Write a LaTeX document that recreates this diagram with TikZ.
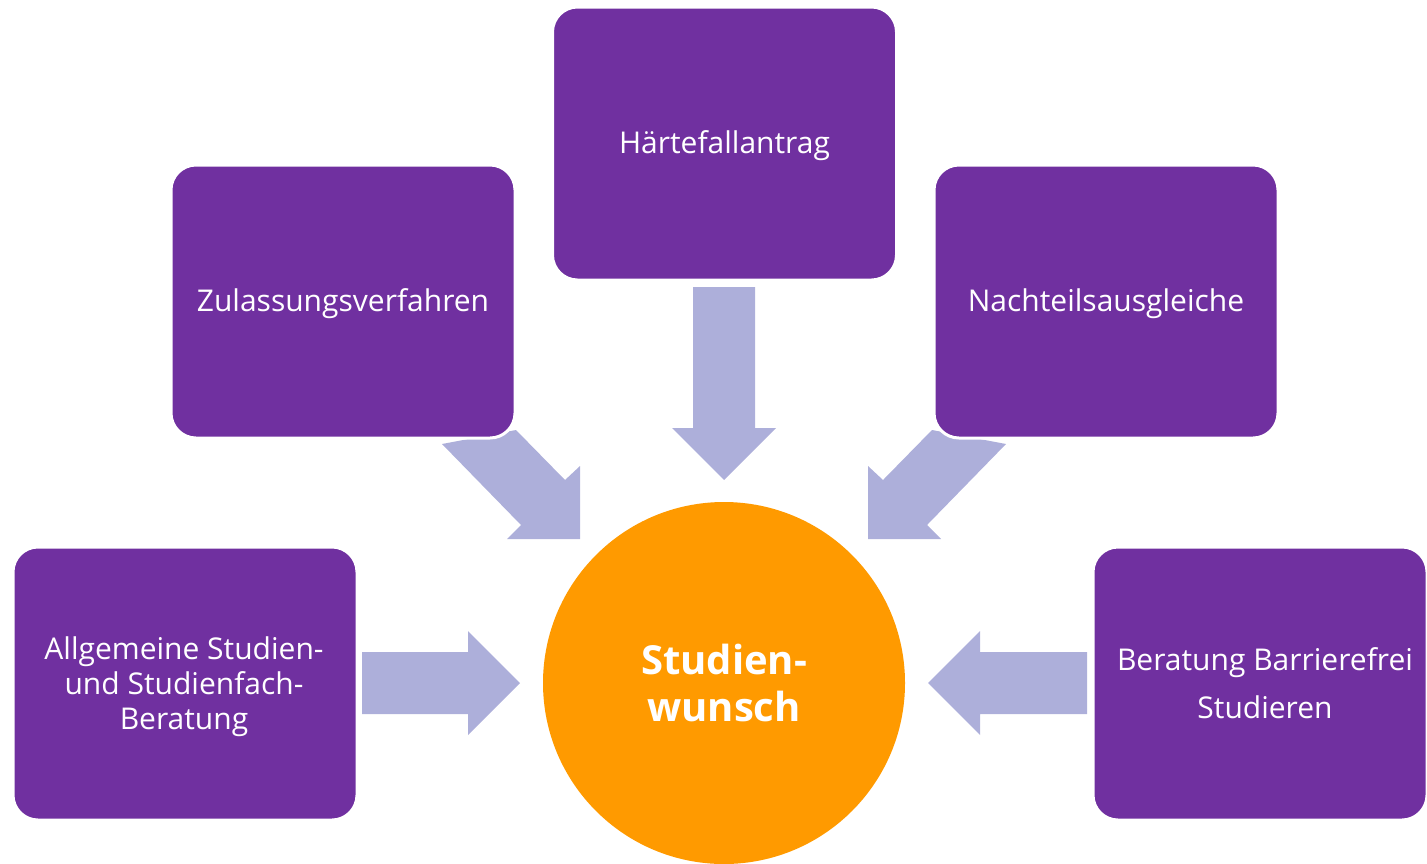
\documentclass[tikz,border=0pt]{standalone}
\usepackage{fontspec}
\setmainfont{Open Sans}
\definecolor{boxpurple}{HTML}{7030A0}
\definecolor{arrowlav}{HTML}{ADAFDA}
\definecolor{circorange}{HTML}{FF9A00}
\begin{document}
\begin{tikzpicture}[x=0.5pt,y=-0.5pt,
  infobox/.style={rectangle,rounded corners=12.5pt,fill=boxpurple,draw=white,line width=1.5pt,
    minimum width=172pt,minimum height=136.5pt,inner sep=0pt},
  boxtext/.style={text=white,align=center,font=\fontsize{15}{17.5}\selectfont,inner sep=0pt},
  blockarrow/.style={fill=arrowlav,draw=none}]
\useasboundingbox (0,0) rectangle (1427,863);
\clip (0,0) rectangle (1427,863);
% arrows
\fill[blockarrow] (693,287) -- (755,287) -- (755,428) -- (776,428) -- (724,480) -- (672,428) -- (693,428) -- cycle;
\fill[blockarrow] (362,652) -- (468,652) -- (468,631) -- (520,683) -- (468,735) -- (468,714) -- (362,714) -- cycle;
\fill[blockarrow] (1087,652) -- (980,652) -- (980,631) -- (928,683) -- (980,735) -- (980,714) -- (1087,714) -- cycle;
\fill[blockarrow] (442,444) -- (516,430) -- (565,480) -- (580,466) -- (580,539) -- (507,539) -- (521,525) -- cycle;
\fill[blockarrow] (1006,444) -- (932,430) -- (883,480) -- (868,466) -- (868,539) -- (941,539) -- (927,525) -- cycle;
% boxes
\node[infobox] (haerte) at (724.5,143.5) {};
\node[infobox] (zul) at (343,301.5) {};
\node[infobox] (nach) at (1106,301.5) {};
\node[infobox] (allg) at (185,683.5) {};
\node[infobox,minimum width=167pt] (ber) at (1260,683.5) {};
\node[circle,fill=circorange,minimum size=181pt,inner sep=0pt] (wunsch) at (724,683) {};
% texts
\node[boxtext] (haerteT) at (724.5,146) {Härtefallantrag};
\node[boxtext] (zulT) at (343,304) {Zulassungsverfahren};
\node[boxtext] (nachT) at (1106,304) {Nachteilsausgleiche};
\node[boxtext] (allgT) at (184,686.5) {Allgemeine Studien-\\und Studienfach-\\Beratung};
\node[boxtext,font=\fontsize{15}{24}\selectfont] (berT) at (1265,683) {Beratung Barrierefrei\\Studieren};
\node[text=white,align=center,inner sep=0pt,font=\fontsize{20}{23.5}\selectfont\bfseries] (wunschT) at (724,683) {Studien-\\wunsch};
\end{tikzpicture}
\end{document}
